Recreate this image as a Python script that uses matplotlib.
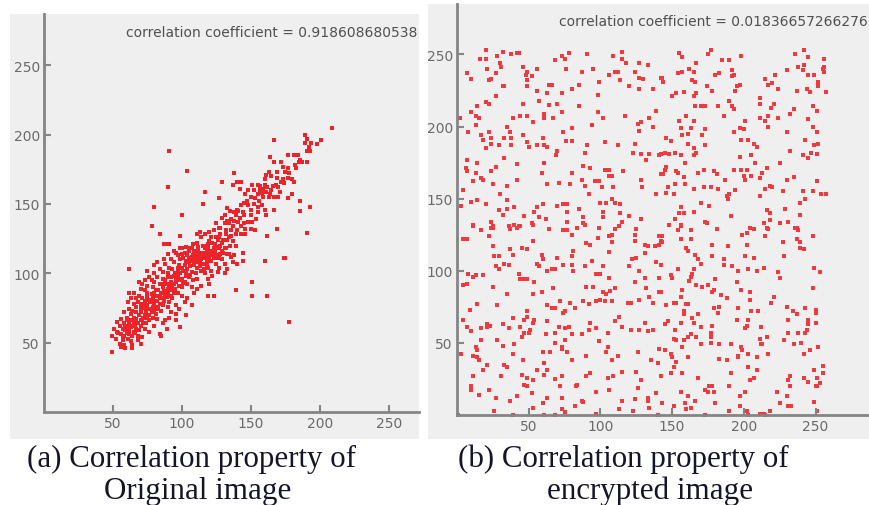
import matplotlib.pyplot as plt
from matplotlib.patches import Rectangle
import numpy as np

# adjacent pixel pairs (x, y)
orig_xy = [
    (209,205),(167,196),(91,188),(104,174),(90,162),(80,148),(100,142),(78,134),(84,128),(99,127),
    (87,121),(90,121),(91,121),(129,166),(117,159),(127,154),(115,150),(138,172),(191,129),(186,145),
    (193,148),(186,152),(169,132),(162,127),(174,111),
    (189,200),(191,197),(189,194),(194,194),(192,191),(191,188),(193,188),(201,196),(198,193),(186,182),
    (184,185),(181,185),(177,185),(187,180),(191,180),(182,178),(177,176),(172,180),(167,180),(164,184),
    (173,177),(175,173),(169,173),(163,173),(165,170),(161,171),(160,168),(169,169),(173,168),(177,169),
    (180,168),(181,166),(172,166),(168,164),(166,163),(162,162),(159,161),(157,160),(158,158),(155,157),
    (152,160),(161,159),(164,157),(167,155),(170,155),(177,154),(180,157),(171,159),(167,146),(158,149),
    (160,146),(155,148),(155,144),(161,142),(154,139),(150,142),(150,146),(148,149),(153,154),(150,155),
    (146,157),(148,160),(151,164),(155,164),(143,166),(142,161),(140,166),(137,164),(145,151),(143,149),
    (140,146),(144,144),(138,144),(135,145),(133,147),(131,142),(129,140),(133,138),(136,139),(139,142),
    (141,137),(145,136),(148,137),(151,137),(153,131),(150,132),(146,132),(143,134),(140,131),(137,134),
    (134,136),(131,136),(127,133),(125,136),(123,131),(120,130),(117,128),(114,126),(113,130),(111,128),
    (121,126),(125,126),(128,128),(132,128),(136,127),(139,128),(143,128),(146,128),(133,124),(129,122),
    (126,124),(122,122),(119,121),(115,120),(111,122),(108,121),(106,118),(103,119),(99,118),(96,115),
    (100,114),(104,113),(109,115),(112,116),(116,115),(119,118),(123,118),(127,119),(131,118),(135,120),
    (139,120),(128,114),(125,113),(121,113),(117,113),(134,114),(138,113),(144,115),
    (49,43),(62,103),(178,65),(151,84),(162,84),(139,88),(151,94),(175,111),(160,109),(144,109),
    (140,107),(131,100),(119,84),(123,84),(120,92),(107,77),(103,70),(99,61),(96,66),(89,60),
    (85,55),(84,56),(104,82),(114,112),(120,111),
    (52,53),(55,49),(57,52),(58,55),(61,53),(63,51),(56,56),(53,58),(57,60),(59,59),
    (62,56),(64,55),(65,58),(68,55),(55,62),(58,64),(61,62),(63,61),(67,60),(69,59),
    (70,62),(73,60),(63,66),(65,65),(68,64),(71,66),(74,64),(76,66),(60,68),(63,71),
    (65,68),(69,70),(73,70),(75,68),(79,68),(62,74),(64,73),(67,76),(70,74),(74,73),
    (78,72),(81,71),(82,67),(65,78),(68,79),(70,77),(73,80),(75,77),(79,76),(82,74),
    (85,73),(88,66),(67,82),(69,84),(71,82),(75,83),(78,80),(80,79),(84,78),(86,77),
    (90,76),(73,88),(75,86),(78,85),(81,84),(84,82),(87,80),(91,79),(93,82),(71,92),
    (75,91),(79,90),(81,88),(85,86),(88,85),(92,84),(94,86),(78,95),(80,94),(84,92),
    (86,90),(90,89),(93,88),(97,86),(82,97),(86,96),(88,95),(92,94),(94,92),(98,91),
    (100,90),(86,101),(90,100),(92,97),(96,96),(98,95),(102,94),(104,92),(91,104),(93,103),
    (97,101),(99,100),(103,98),(105,97),(108,95),(94,108),(98,106),(100,104),(104,103),(107,101),
    (110,100),(111,96),(99,110),(103,109),(105,108),(109,106),(111,104),(114,102),(117,100),(104,114),
    (107,112),(110,111),(113,108),(116,107),(119,104),(121,102),(109,116),(113,115),(115,113),(119,112),
    (121,109),(125,107),(127,104),(117,118),(121,116),(123,114),(127,113),(129,110),(131,107),(126,118),
    (129,116),(133,114),(136,112),(132,118),(92,110),(88,107),(84,103),(80,100),(76,97),(73,95),
    (70,89),(65,86),(97,113),(102,115),(82,108),(63,82),(61,79),(58,72),(56,67),(53,65),
    (51,60),(49,55),(58,48),(64,48),(68,52),(71,54),(76,58),(80,62),(86,64),(91,68),
    (96,71),(98,74),(102,79),(109,86),(114,91),(119,96),(122,98),(126,101),(133,103),(137,108),
    (100,84),(107,90),(111,89),(96,77),(92,72),(62,86),(69,94),(75,102),(80,106),(90,114),
    (94,116),(100,118),(87,110),(107,118),(64,46),(70,49),(59,46),(56,47),
    # dense core
    (54,57),(57,54),(60,57),(59,62),(62,59),(64,62),(66,63),(66,57),(62,64),(60,66),
    (67,67),(70,66),(72,64),(72,68),(67,72),(70,72),(72,75),(76,70),(77,74),(74,76),
    (71,78),(73,77),(77,79),(80,77),(80,73),(83,76),(76,81),(79,82),(82,80),(84,84),
    (86,82),(80,86),(83,88),(87,87),(90,86),(89,83),(86,92),(89,92),(91,91),(93,91),
    (95,89),(96,94),(90,97),(94,98),(97,98),(100,96),(101,93),(95,100),(97,104),(101,102),
    (102,106),(106,105),(103,100),(106,99),(101,111),(105,111),(108,109),(110,108),(112,110),(111,113),
    (114,110),(116,111),(118,109),(113,105),(116,103),(118,106),(120,114),(123,111),(124,116),(126,111),
    (130,115),(128,120),(118,116),(108,113),(105,116),(112,119),(116,120),(120,123),(124,121),(130,124),
    (127,126),(134,126),(137,123),(132,131),(136,131),(128,133),(138,138),(142,140),(145,142),(141,145),
    (147,152),(152,150),(156,152),(159,155),(163,155),(157,163),(160,164),(165,160),(170,162),(174,165),
    (178,172),(183,176),(185,180),
]

enc_xy = [
    (20,253),(16,247),(20,247),(28,249),(32,252),(42,251),(43,251),(38,250),(68,246),(73,249),
    (75,247),(78,251),(91,250),(109,249),(115,252),(115,247),(118,244),(127,244),(133,243),(7,237),
    (10,233),(21,240),(27,237),(30,244),(31,241),(22,232),(24,233),(46,241),(49,238),(48,236),
    (49,232),(52,235),(56,240),(49,228),(76,240),(87,238),(95,240),(99,231),(106,236),(110,238),
    (112,238),(114,232),(124,238),(127,234),(130,233),(120,228),(127,226),(137,226),(142,234),(32,228),
    (33,228),(27,221),(56,225),(63,223),(64,229),(66,229),(73,223),(80,226),(85,229),(98,222),
    (20,217),(22,216),(14,214),(10,210),(13,207),(15,206),(2,206),(8,196),(13,201),(46,216),
    (57,218),(64,215),(70,216),(85,214),(73,210),(61,209),(61,206),(67,206),(53,203),(49,207),
    (44,207),(39,206),(35,200),(37,196),(98,210),(102,206),(94,201),(117,207),(126,202),(128,203),
    (127,197),(134,206),(139,211),(137,200),(17,194),(18,191),(22,196),(24,192),(24,188),(20,185),
    (29,187),(33,192),(38,192),(38,187),(46,194),(49,189),(50,186),(56,187),(60,192),(61,187),
    (63,186),(70,183),(69,180),(74,196),(80,199),(76,190),(80,190),(91,187),(89,182),(103,189),
    (112,187),(124,188),(123,182),(128,181),(132,177),(134,181),(141,180),(145,182),(7,177),(14,175),
    (33,178),(42,174),(61,175),(6,171),(7,169),(13,168),(17,164),(18,163),(11,162),(24,169),
    (27,172),(25,160),(30,153),(35,159),(42,163),(4,156),(59,168),(63,160),(71,161),(79,160),
    (80,168),(88,173),(93,171),(87,163),(89,159),(96,162),(99,162),(101,158),(103,170),(106,170),
    (106,166),(108,166),(116,169),(109,158),(128,163),(129,158),(139,153),(142,167),(145,170),(92,153),
    (10,148),(14,149),(20,146),(3,145),(29,142),(32,139),(35,149),(35,143),(40,144),(47,138),
    (54,141),(56,144),(60,146),(57,137),(62,136),(70,145),(74,146),(77,146),(77,141),(85,143),
    (88,137),(100,147),(104,147),(108,150),(110,147),(114,146),(114,140),(120,138),(102,141),(11,132),
    (24,134),(25,130),(36,131),(40,132),(43,131),(53,132),(77,134),(89,132),(99,130),(102,137),
    (115,134),(128,136),
    (155,251),(157,248),(175,250),(177,253),(198,249),(185,246),(190,246),(236,250),(242,253),(245,248),
    (256,247),(255,240),(256,238),(256,241),(242,243),(238,241),(241,239),(230,239),(222,236),(167,244),
    (162,240),(165,238),(154,237),(157,238),(180,236),(183,237),(192,239),(192,235),(193,236),(143,234),
    (144,231),(164,232),(166,231),(174,228),(178,225),(197,229),(195,228),(194,225),(215,233),(217,229),
    (220,230),(224,226),(237,225),(244,226),(246,224),(249,236),(245,236),(252,231),(252,228),(257,224),
    (150,221),(153,223),(158,224),(167,223),(165,221),(166,214),(170,214),(173,214),(182,214),(190,218),
    (192,214),(193,212),(211,220),(211,216),(221,216),(219,213),(235,212),(232,209),(248,214),(251,211),
    (186,207),(155,204),(160,207),(165,204),(156,199),(163,199),(161,195),(157,194),(173,198),(171,194),
    (201,204),(197,199),(200,198),(193,196),(211,206),(215,204),(217,207),(217,200),(224,206),(245,205),
    (248,200),(251,196),(230,196),(146,192),(149,190),(161,188),(165,185),(167,182),(165,180),(148,181),
    (152,182),(156,180),(142,181),(173,187),(198,191),(203,191),(207,188),(209,186),(197,179),(205,180),
    (232,183),(243,191),(249,187),(252,188),(247,182),(241,180),(251,181),(245,178),(146,172),(159,175),
    (144,167),(153,169),(154,168),(158,165),(168,168),(172,170),(179,169),(181,167),(193,170),(198,170),
    (202,170),(200,166),(201,163),(205,166),(208,175),(211,164),(213,168),(216,171),(225,175),(187,163),
    (147,158),(152,160),(159,160),(165,157),(172,158),(177,158),(182,157),(218,159),(220,158),(230,163),
    (235,165),(251,162),(146,154),(151,153),(188,152),(190,153),(189,150),(194,156),(211,152),(215,157),
    (227,155),(241,155),(243,150),(248,155),(254,153),(257,153),(239,147),(170,147),(176,145),(156,144),
    (155,140),(158,140),(165,141),(191,138),(216,142),(218,140),(229,143),(239,139),(152,136),(148,132),
    (156,132),(173,134),(174,133),(204,130),(214,133),(218,135),(225,133),(231,134),(236,130),
    (11,131),(17,128),(22,124),(24,130),(25,131),(37,129),(42,130),(44,131),(52,133),(64,129),
    (74,128),(77,128),(80,125),(84,130),(88,133),(99,130),(110,129),(108,125),(113,131),(125,129),
    (124,125),(124,121),(141,124),(142,121),(4,122),(7,122),(25,117),(26,110),(29,110),(37,115),
    (39,111),(45,116),(49,115),(53,121),(59,111),(60,108),(70,109),(80,110),(81,114),(90,119),
    (93,118),(98,123),(106,124),(108,120),(106,113),(94,107),(122,108),(125,109),(131,112),(131,118),
    (133,117),(138,117),(141,118),(139,106),(127,100),(120,103),(8,98),(11,96),(13,97),(7,91),
    (4,90),(18,97),(27,103),(29,101),(33,105),(36,104),(43,98),(44,94),(47,94),(49,94),
    (54,92),(56,105),(57,103),(63,100),(66,101),(68,101),(74,104),(80,104),(81,100),(89,103),
    (97,98),(100,98),(102,103),(106,95),(124,92),(131,95),(141,95),(9,73),(14,77),(28,76),
    (35,84),(25,89),(53,84),(59,85),(67,88),(63,76),(66,74),(68,74),(72,79),(74,71),
    (75,72),(79,78),(82,74),(88,79),(90,89),(95,89),(92,77),(102,85),(104,84),(107,86),
    (103,79),(100,80),(97,79),(110,88),(108,79),(121,78),(119,78),(127,80),(134,82),(137,78),
    (141,85),(132,88),(4,66),(7,61),(10,58),(17,60),(21,63),(21,61),(23,62),(32,63),
    (36,60),(39,67),(44,61),(47,66),(49,72),(49,68),(51,59),(50,57),(54,66),(53,64),
    (63,65),(62,56),(68,57),(71,61),(75,60),(78,61),(80,56),(87,56),(92,59),(93,64),
    (97,60),(105,57),(110,65),(113,68),(115,61),(121,59),(127,59),(131,64),(133,58),(137,59),
    (17,52),(28,52),(32,48),(40,49),(45,54),(47,57),(13,47),(14,45),(11,41),(14,40),
    (15,38),(21,35),(18,31),(3,42),(39,42),(33,35),(35,33),(46,38),(45,28),(49,26),
    (56,31),(61,36),(60,44),(65,44),(63,31),(68,50),(73,47),(73,46),(75,52),(77,44),
    (80,38),(90,41),(99,51),(105,47),(104,44),(112,41),(108,38),(109,27),(105,26),(126,44),
    (135,38),(141,46),(140,36),(125,30),(115,30),(11,27),(31,27),(47,21),(49,20),(53,24),
    (61,28),(68,25),(73,27),(72,20),(83,20),(84,21),(90,27),(93,29),(10,20),(10,17),
    (22,17),(15,14),(27,12),(37,10),(42,13),(52,15),(60,8),(63,12),(73,12),(82,6),
    (87,10),(88,9),(97,16),(106,17),(115,10),(124,11),(126,19),(133,12),(133,10),(139,15),
    (128,24),(134,5),(26,3),(53,5),(39,0),(61,0),(68,0),(73,4),(75,2),(97,1),
    (113,4),(123,3),(140,0),(1,0),
    (156,131),(154,128),(163,128),(174,133),(181,129),(199,125),(202,126),(204,130),(207,129),(216,130),
    (217,129),(215,124),(227,120),(237,130),(238,128),(237,122),(239,120),(239,116),(242,115),(248,124),
    (143,124),(143,120),(156,122),(163,122),(160,116),(161,114),(166,111),(168,108),(170,105),(178,118),
    (178,110),(189,117),(186,108),(186,104),(192,103),(196,100),(202,118),(201,110),(207,109),(203,101),
    (209,100),(214,102),(228,110),(224,99),(225,95),(249,102),(253,99),(142,104),(154,101),(149,97),
    (150,95),(165,101),(164,98),(163,96),(162,93),(167,90),(171,89),(175,90),(180,94),(179,87),
    (178,85),(195,92),(198,87),(184,83),(188,81),(204,85),(204,80),(221,82),(219,78),(248,88),
    (142,85),(157,87),(156,82),(151,78),(153,78),(160,77),(161,77),(158,72),(146,76),(145,63),
    (147,65),(156,64),(158,70),(164,67),(165,64),(168,70),(152,59),(151,53),(153,52),(158,52),
    (161,54),(163,56),(167,54),(170,61),(178,62),(177,57),(177,54),(179,74),(182,71),(183,75),
    (196,74),(205,72),(210,72),(195,66),(203,66),(202,62),(201,60),(212,61),(211,53),(216,54),
    (213,49),(230,75),(234,72),(237,70),(243,74),(250,73),(250,71),(231,66),(231,57),(238,57),
    (245,66),(245,63),(250,64),(244,59),(243,57),(240,50),(235,49),(228,52),(145,45),(149,42),
    (150,40),(153,37),(157,47),(161,40),(151,33),(157,29),(168,26),(170,49),(177,50),(183,49),
    (191,49),(198,47),(199,45),(196,41),(196,40),(203,42),(209,40),(217,42),(209,31),(207,26),
    (204,24),(188,38),(183,39),(191,29),(203,33),(212,49),(252,47),(246,45),(242,42),(255,34),
    (249,31),(255,29),(242,26),(251,26),(251,20),(250,20),(253,22),(245,23),(232,27),(231,24),
    (232,20),(230,13),(231,6),(233,6),(225,8),(223,16),(142,27),(149,29),(156,16),(161,13),
    (159,8),(160,4),(163,5),(151,6),(143,8),(173,17),(176,20),(178,20),(175,16),(179,16),
    (180,8),(190,20),(190,3),(197,6),(197,13),(201,16),(202,3),(203,0),(211,1),(214,1),
    (218,3),(215,0),(249,9),(251,3),(166,10),(173,0),
]

orig_label = 'correlation coefficient = 0.918608680538'
enc_label = 'correlation coefficient = 0.01836657266276'
ticks = [50, 100, 150, 200, 250]

panel_gray = '#efefef'
axis_gray = '#858585'
dot_red = '#ee2229'

fig = plt.figure(figsize=(8.7, 5.06), dpi=100)
W, H = 870.0, 506.0

# gray background boards behind each plot
fig.patches.append(Rectangle((10 / W, 1 - 440 / H), 409 / W, 425 / H,
                             transform=fig.transFigure, facecolor=panel_gray, edgecolor='none', zorder=0))
fig.patches.append(Rectangle((428 / W, 1 - 440 / H), 442 / W, 435 / H,
                             transform=fig.transFigure, facecolor=panel_gray, edgecolor='none', zorder=0))


def setup(ax, xmax, ymax):
    ax.set_zorder(2)
    ax.set_facecolor('none')
    ax.set_xlim(0, xmax)
    ax.set_ylim(0, ymax)
    for s in ['top', 'right']:
        ax.spines[s].set_visible(False)
    for s in ['left', 'bottom']:
        ax.spines[s].set_color(axis_gray)
        ax.spines[s].set_linewidth(2)
    ax.set_xticks(ticks)
    ax.set_yticks(ticks)
    ax.tick_params(direction='in', length=5, width=1.5, color=axis_gray,
                   labelcolor='#6a6a6a', labelsize=10, pad=3)


ax1 = fig.add_axes([44 / W, 1 - 413 / H, 375 / W, 398 / H])
setup(ax1, 272, 287)
o = np.array(orig_xy)
ax1.scatter(o[:, 0], o[:, 1], s=9, marker='s', color=dot_red, linewidths=0, clip_on=False)
ax1.text(0.995, 0.955, orig_label, transform=ax1.transAxes, ha='right', va='center',
         fontsize=10, color='#505050')

ax2 = fig.add_axes([457 / W, 1 - 416 / H, 413 / W, 411 / H])
setup(ax2, 288, 285)
e = np.array(enc_xy)
ax2.scatter(e[:, 0], e[:, 1], s=7, marker='s', color='#f03a40', linewidths=0, clip_on=False)
ax2.text(0.995, 0.9586, enc_label, transform=ax2.transAxes, ha='right', va='center',
         fontsize=10, color='#505050')

cap = dict(family='Liberation Serif', fontsize=22.3, color='#15152a')
fig.text(192 / W, 1 - 467 / H, '(a) Correlation property of', ha='center', va='baseline', **cap)
fig.text(198 / W, 1 - 499 / H, 'Original image', ha='center', va='baseline', **cap)
fig.text(458 / W, 1 - 467 / H, '(b) Correlation property of', ha='left', va='baseline', **cap)
fig.text(650 / W, 1 - 499 / H, 'encrypted image', ha='center', va='baseline', **cap)

fig.savefig('out.png', dpi=100, facecolor='white')
